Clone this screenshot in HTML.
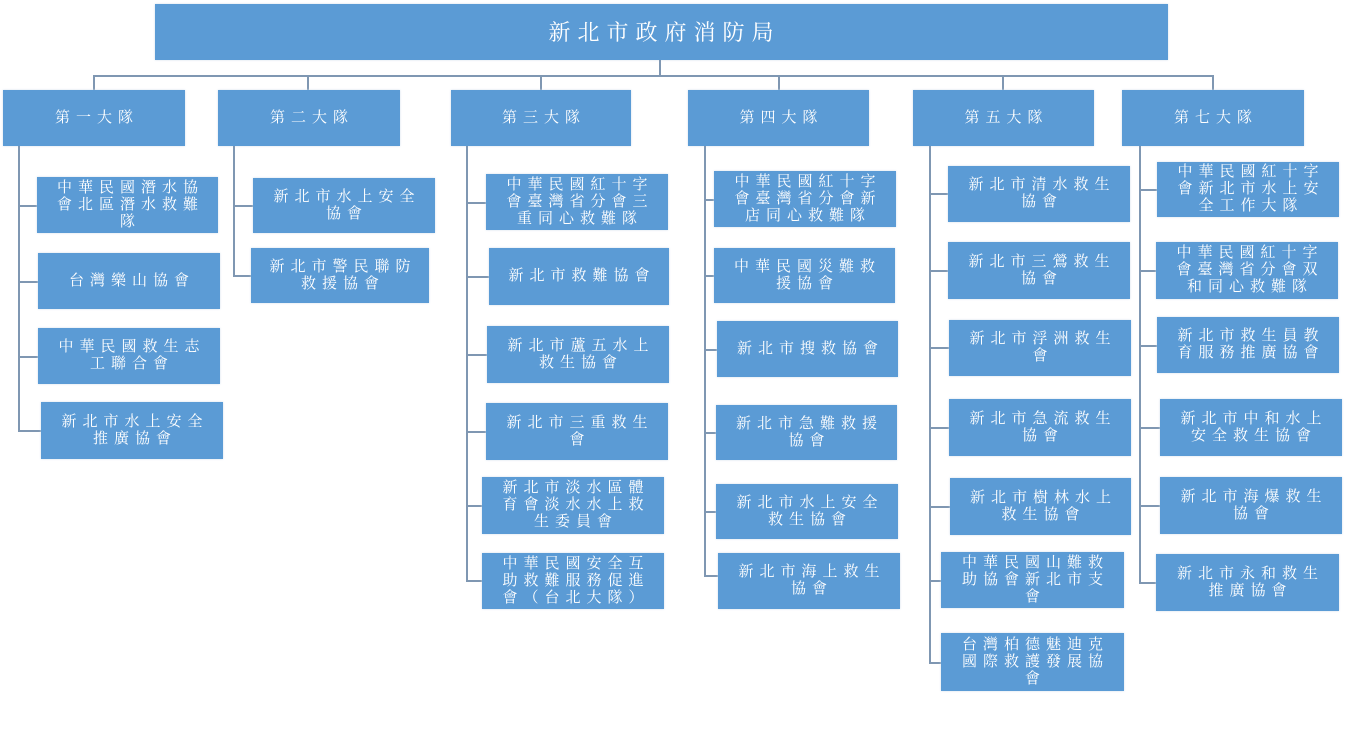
<!DOCTYPE html>
<html><head><meta charset="utf-8">
<style>
body{margin:0;width:1350px;height:734px;background:#fff;position:relative;overflow:hidden;font-family:"Liberation Serif","Noto Serif CJK SC","Noto Sans CJK TC",serif;}
.b{position:absolute;background:#5b9bd5;color:#fff;display:flex;align-items:center;justify-content:center;text-align:center;font-weight:normal;font-size:15px;line-height:17px;letter-spacing:6px;padding:0 8px 0 14px;box-sizing:border-box;box-shadow:0 0 2px #cfdceb;}
.l{position:absolute;background:#7f97b2;}
</style></head><body>
<div class="b" style="left:155px;top:4px;width:1013px;height:56px;font-size:22px;letter-spacing:7px;">新北市政府消防局</div>
<div class="l" style="left:659px;top:60px;width:2px;height:17px"></div>
<div class="l" style="left:93px;top:75px;width:1121px;height:2px"></div>
<div class="l" style="left:93px;top:75px;width:2px;height:15px"></div>
<div class="l" style="left:307px;top:75px;width:2px;height:15px"></div>
<div class="l" style="left:540px;top:75px;width:2px;height:15px"></div>
<div class="l" style="left:778px;top:75px;width:2px;height:15px"></div>
<div class="l" style="left:1002px;top:75px;width:2px;height:15px"></div>
<div class="l" style="left:1212px;top:75px;width:2px;height:15px"></div>

<div class="b" style="left:3px;top:90px;width:182px;height:56px">第一大隊</div>
<div class="b" style="left:218px;top:90px;width:182px;height:56px">第二大隊</div>
<div class="b" style="left:451px;top:90px;width:180px;height:56px">第三大隊</div>
<div class="b" style="left:688px;top:90px;width:181px;height:56px">第四大隊</div>
<div class="b" style="left:913px;top:90px;width:181px;height:56px">第五大隊</div>
<div class="b" style="left:1122px;top:90px;width:182px;height:56px">第七大隊</div>

<div class="l" style="left:18px;top:146px;width:2px;height:285px"></div>
<div class="l" style="left:233px;top:146px;width:2px;height:130px"></div>
<div class="l" style="left:466px;top:146px;width:2px;height:436px"></div>
<div class="l" style="left:704px;top:146px;width:2px;height:430px"></div>
<div class="l" style="left:929px;top:146px;width:2px;height:518px"></div>
<div class="l" style="left:1139px;top:146px;width:2px;height:438px"></div>

<div class="l" style="left:18px;top:205px;width:19px;height:2px"></div>
<div class="l" style="left:18px;top:281px;width:20px;height:2px"></div>
<div class="l" style="left:18px;top:356px;width:20px;height:2px"></div>
<div class="l" style="left:18px;top:430px;width:23px;height:2px"></div>
<div class="b" style="left:37px;top:177px;width:181px;height:56px">中華民國潛水協會北區潛水救難隊</div>
<div class="b" style="left:38px;top:253px;width:182px;height:56px">台灣樂山協會</div>
<div class="b" style="left:38px;top:328px;width:182px;height:56px">中華民國救生志工聯合會</div>
<div class="b" style="left:41px;top:402px;width:182px;height:57px">新北市水上安全推廣協會</div>

<div class="l" style="left:233px;top:205px;width:20px;height:2px"></div>
<div class="l" style="left:233px;top:275px;width:18px;height:2px"></div>
<div class="b" style="left:253px;top:178px;width:182px;height:55px">新北市水上安全協會</div>
<div class="b" style="left:251px;top:248px;width:178px;height:55px">新北市警民聯防救援協會</div>

<div class="l" style="left:466px;top:202px;width:20px;height:2px"></div>
<div class="l" style="left:466px;top:276px;width:23px;height:2px"></div>
<div class="l" style="left:466px;top:354px;width:21px;height:2px"></div>
<div class="l" style="left:466px;top:431px;width:20px;height:2px"></div>
<div class="l" style="left:466px;top:505px;width:16px;height:2px"></div>
<div class="l" style="left:466px;top:580px;width:16px;height:2px"></div>
<div class="b" style="left:486px;top:174px;width:182px;height:56px">中華民國紅十字會臺灣省分會三重同心救難隊</div>
<div class="b" style="left:489px;top:248px;width:180px;height:57px">新北市救難協會</div>
<div class="b" style="left:487px;top:326px;width:182px;height:57px">新北市蘆五水上救生協會</div>
<div class="b" style="left:486px;top:403px;width:182px;height:57px">新北市三重救生會</div>
<div class="b" style="left:482px;top:477px;width:182px;height:57px">新北市淡水區體育會淡水水上救生委員會</div>
<div class="b" style="left:482px;top:553px;width:182px;height:56px">中華民國安全互助救難服務促進會（台北大隊）</div>

<div class="l" style="left:704px;top:199px;width:10px;height:2px"></div>
<div class="l" style="left:704px;top:275px;width:10px;height:2px"></div>
<div class="l" style="left:704px;top:349px;width:13px;height:2px"></div>
<div class="l" style="left:704px;top:432px;width:12px;height:2px"></div>
<div class="l" style="left:704px;top:511px;width:12px;height:2px"></div>
<div class="l" style="left:704px;top:575px;width:14px;height:2px"></div>
<div class="b" style="left:714px;top:171px;width:182px;height:56px">中華民國紅十字會臺灣省分會新店同心救難隊</div>
<div class="b" style="left:714px;top:248px;width:181px;height:55px">中華民國災難救援協會</div>
<div class="b" style="left:717px;top:321px;width:181px;height:56px">新北市搜救協會</div>
<div class="b" style="left:716px;top:405px;width:181px;height:55px">新北市急難救援協會</div>
<div class="b" style="left:716px;top:484px;width:182px;height:55px">新北市水上安全救生協會</div>
<div class="b" style="left:718px;top:553px;width:182px;height:56px">新北市海上救生協會</div>

<div class="l" style="left:929px;top:193px;width:19px;height:2px"></div>
<div class="l" style="left:929px;top:270px;width:19px;height:2px"></div>
<div class="l" style="left:929px;top:347px;width:20px;height:2px"></div>
<div class="l" style="left:929px;top:427px;width:20px;height:2px"></div>
<div class="l" style="left:929px;top:506px;width:21px;height:2px"></div>
<div class="l" style="left:929px;top:580px;width:12px;height:2px"></div>
<div class="l" style="left:929px;top:662px;width:12px;height:2px"></div>
<div class="b" style="left:948px;top:166px;width:182px;height:56px">新北市清水救生協會</div>
<div class="b" style="left:948px;top:242px;width:182px;height:57px">新北市三鶯救生協會</div>
<div class="b" style="left:949px;top:320px;width:182px;height:56px">新北市浮洲救生會</div>
<div class="b" style="left:949px;top:399px;width:182px;height:57px">新北市急流救生協會</div>
<div class="b" style="left:950px;top:478px;width:181px;height:57px">新北市樹林水上救生協會</div>
<div class="b" style="left:941px;top:552px;width:183px;height:56px">中華民國山難救助協會新北市支會</div>
<div class="b" style="left:941px;top:633px;width:183px;height:58px">台灣柏德魅迪克國際救護發展協會</div>

<div class="l" style="left:1139px;top:189px;width:18px;height:2px"></div>
<div class="l" style="left:1139px;top:270px;width:17px;height:2px"></div>
<div class="l" style="left:1139px;top:345px;width:18px;height:2px"></div>
<div class="l" style="left:1139px;top:427px;width:21px;height:2px"></div>
<div class="l" style="left:1139px;top:505px;width:21px;height:2px"></div>
<div class="l" style="left:1139px;top:582px;width:17px;height:2px"></div>
<div class="b" style="left:1157px;top:162px;width:182px;height:55px">中華民國紅十字會新北市水上安全工作大隊</div>
<div class="b" style="left:1156px;top:242px;width:182px;height:57px">中華民國紅十字會臺灣省分會双和同心救難隊</div>
<div class="b" style="left:1157px;top:317px;width:182px;height:56px">新北市救生員教育服務推廣協會</div>
<div class="b" style="left:1160px;top:399px;width:182px;height:57px">新北市中和水上安全救生協會</div>
<div class="b" style="left:1160px;top:477px;width:182px;height:57px">新北市海爆救生協會</div>
<div class="b" style="left:1156px;top:554px;width:183px;height:57px">新北市永和救生推廣協會</div>
</body></html>
